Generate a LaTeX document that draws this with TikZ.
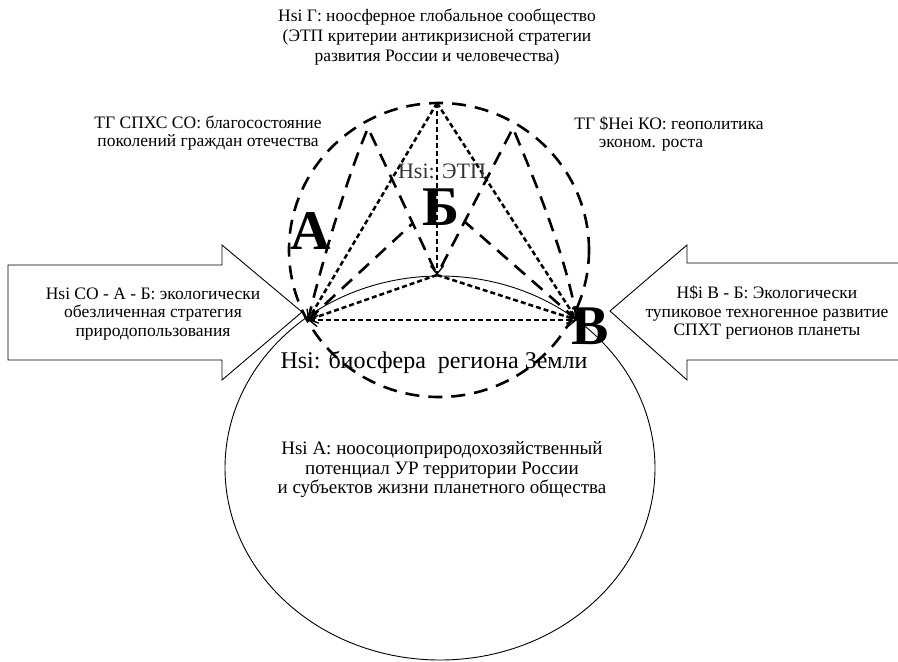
\documentclass[tikz,border=0pt]{standalone}
\usepackage{fontspec}
\setmainfont{Liberation Serif}
\usetikzlibrary{arrows.meta}
\begin{document}
\begin{tikzpicture}[x=1pt,y=-1pt,
  bigdash/.style={line width=2.6pt, dash pattern=on 14pt off 9pt},
  dotline/.style={line width=2.5pt, dash pattern=on 5pt off 3pt},
  tipend/.style={-{Straight Barb[length=8pt,width=13pt,line width=1.4pt]}},
  bothend/.style={{Straight Barb[length=8pt,width=13pt,line width=1.4pt]}-{Straight Barb[length=8pt,width=13pt,line width=1.4pt]}},
  txt/.style={font=\fontsize{17.5}{18.5}\selectfont, align=center, inner sep=0pt},
  big/.style={font=\fontsize{56}{56}\selectfont\bfseries, inner sep=0pt},
  blockarrow/.style={line width=0.9pt, line join=miter}]
\useasboundingbox (0,0) rectangle (898,662);

% key points
\coordinate (A) at (308,320);
\coordinate (B) at (577,320);
\coordinate (T) at (437,103);
\coordinate (C) at (437,275);
\coordinate (TL) at (368,128);
\coordinate (TR) at (513,128);
\coordinate (KL) at (413,223);
\coordinate (KR) at (465,222);

% solid ellipse
\draw[line width=0.9pt] (440,468) ellipse [x radius=215, y radius=192];

% outer dashed circle
\draw[bigdash] (439,250) ellipse [x radius=150, y radius=147];

% inner dashed shapes
\draw[bigdash] (A) .. controls (325,250) and (350,170) .. (TL) -- (C);
\draw[bigdash] (A) -- (KL);
\draw[bigdash] (B) .. controls (565,250) and (530,170) .. (TR) -- (C);
\draw[bigdash] (B) -- (KR);

% dotted arrows
\draw[dotline,bothend] (A) -- (B);
\draw[dotline,tipend] (T) -- (A);
\draw[dotline,tipend] (T) -- (B);
\draw[dotline,tipend] (T) -- (C);
\draw[dotline,tipend] (C) -- (A);
\draw[dotline,tipend] (C) -- (B);

% block arrows
\draw[blockarrow] (8,265) -- (222,265) -- (222,245) -- (302,312) -- (222,380) -- (222,360) -- (8,360) -- cycle;
\draw[blockarrow] (910,263) -- (687,263) -- (687,245) -- (610,311) -- (687,380) -- (687,360) -- (910,360);

% texts
\node[txt, font=\fontsize{17.5}{20}\selectfont] (top) at (437,37) {Hsi Г: ноосферное глобальное сообщество\\(ЭТП критерии антикризисной стратегии\\развития России и человечества)};
\node[txt] (tgl) at (208,133) {ТГ СПХС СО: благосостояние\\поколений граждан отечества};
\node[txt] (tgr) at (669,134) {ТГ \$Hei КО: геополитика\\эконом. роста\hspace*{36pt}};
\node[txt] (lt) at (153,314) {Hsi СО - А - Б: экологически\\обезличенная стратегия\\природопользования};
\node[txt] (rt) at (767,313) {H\$i В - Б: Экологически\\тупиковое техногенное развитие\\СПХТ регионов планеты};
\node[txt, font=\fontsize{24}{26}\selectfont] (bio) at (434,362) {Hsi: биосфера\ \ региона Земли};
\node[txt, font=\fontsize{19}{19.5}\selectfont] (pot) at (442,470) {Hsi А: ноосоциоприродохозяйственный\\потенциал УР территории России\\и субъектов жизни планетного общества};
\node[txt, font=\fontsize{22}{24}\selectfont, text=black!80] (etp) at (442,171) {Hsi: ЭТП};

% big letters
\node[big] (la) at (311,231) {А};
\node[big] (lb) at (441,207) {Б};
\node[big] (lv) at (590,326) {В};
\end{tikzpicture}
\end{document}
